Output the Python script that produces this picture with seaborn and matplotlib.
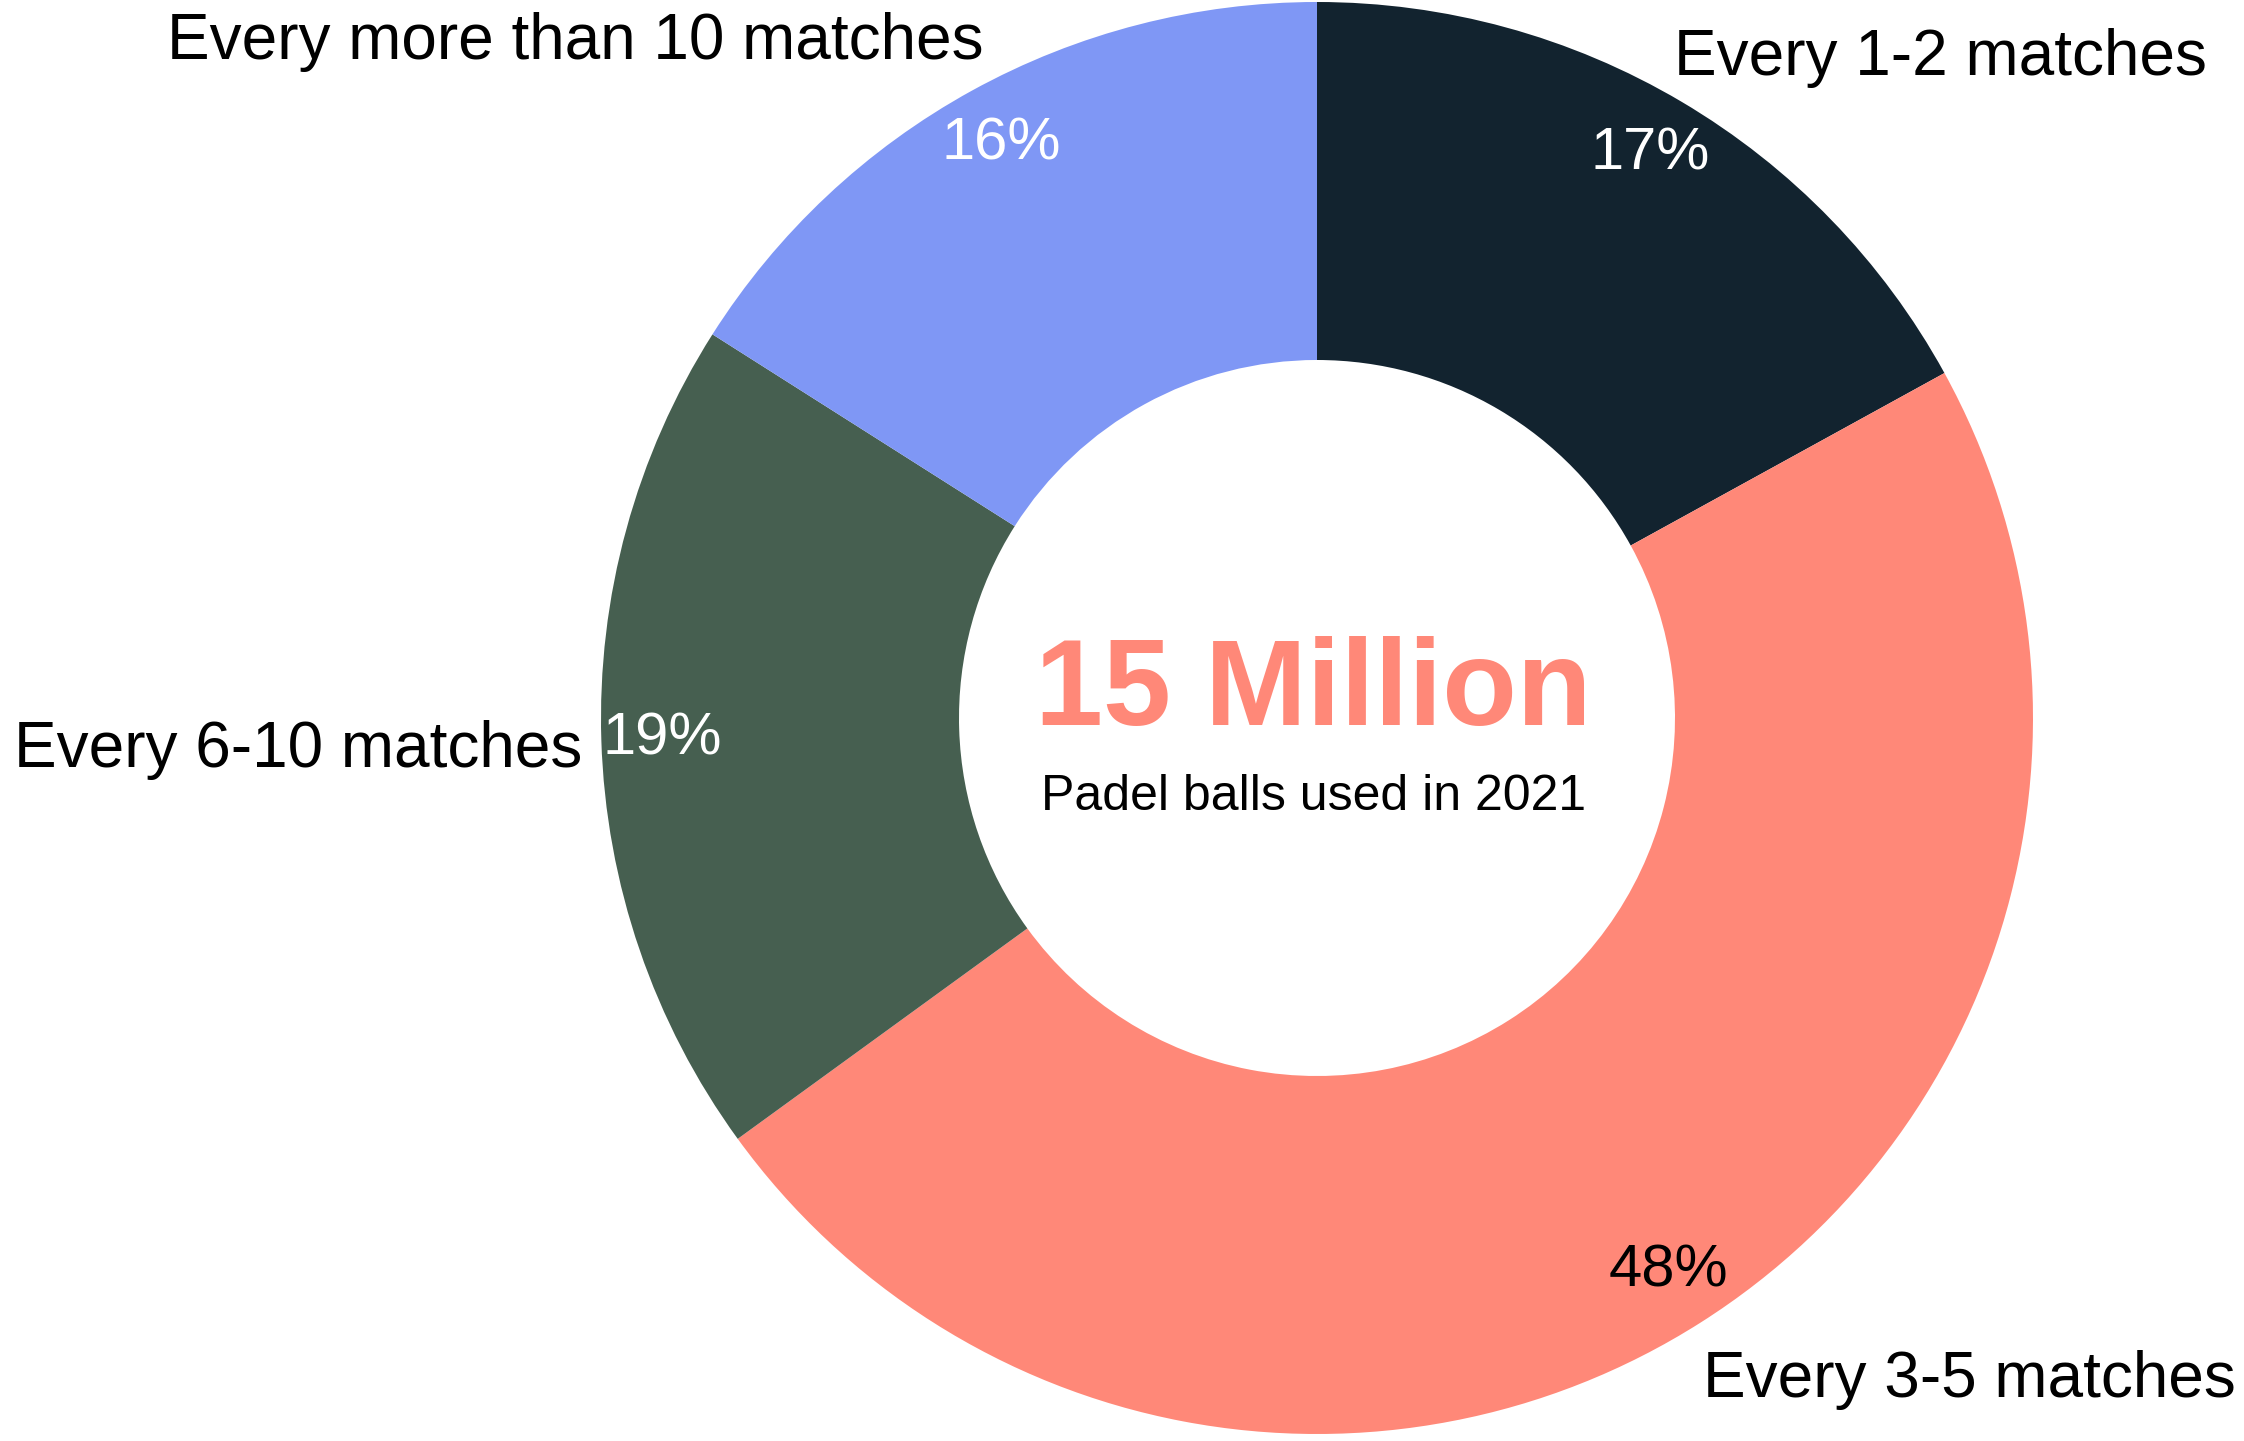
import matplotlib
matplotlib.use("Agg")
import matplotlib.pyplot as plt
import seaborn as sns

categories = ["Every 1-2 matches", "Every 3-5 matches", "Every 6-10 matches", "Every more than 10 matches"]
shares = [17, 48, 19, 16]
colors = ["#12232F", "#FF8878", "#465F50", "#7F97F5"]
pct_colors = ["white", "black", "white", "white"]
center_title = "15 Million"
center_sub = "Padel balls used in 2021"

sns.set_theme(style="white")
plt.rcParams["font.family"] = ["Liberation Sans", "DejaVu Sans"]

W, H = 2244, 1441
fig = plt.figure(figsize=(W / 100, H / 100), dpi=100)
ax = fig.add_axes([0, 0, 1, 1])
ax.set_xlim(0, W)
ax.set_ylim(0, H)
ax.set_aspect("equal")
ax.axis("off")

def Y(y):
    return H - y

cx, cy, R = 1317, Y(718), 716
wedges, _, autotexts = ax.pie(
    shares, colors=colors, startangle=90, counterclock=False,
    center=(cx, cy), radius=R, autopct="%d%%", pctdistance=0.915,
    wedgeprops=dict(width=R * 0.5, linewidth=0),
    textprops=dict(fontsize=43),
)
for t, c in zip(autotexts, pct_colors):
    t.set_color(c)
ax.set_xlim(0, W)
ax.set_ylim(0, H)
ax.set_aspect("equal")

lab_fs = 46
ax.text(1674, Y(58), categories[0], ha="left", va="center", fontsize=lab_fs, color="black")
ax.text(2236, Y(1380), categories[1], ha="right", va="center", fontsize=lab_fs, color="black")
ax.text(14, Y(750), categories[2], ha="left", va="center", fontsize=lab_fs, color="black")
ax.text(167, Y(42), categories[3], ha="left", va="center", fontsize=lab_fs, color="black")

ax.text(cx - 4, Y(693), center_title, ha="center", va="center", fontsize=88,
        fontweight="bold", color="#FF8878")
ax.text(cx - 3, Y(797), center_sub, ha="center", va="center", fontsize=36, color="black")

fig.savefig("out.png", dpi=100, facecolor="white")
